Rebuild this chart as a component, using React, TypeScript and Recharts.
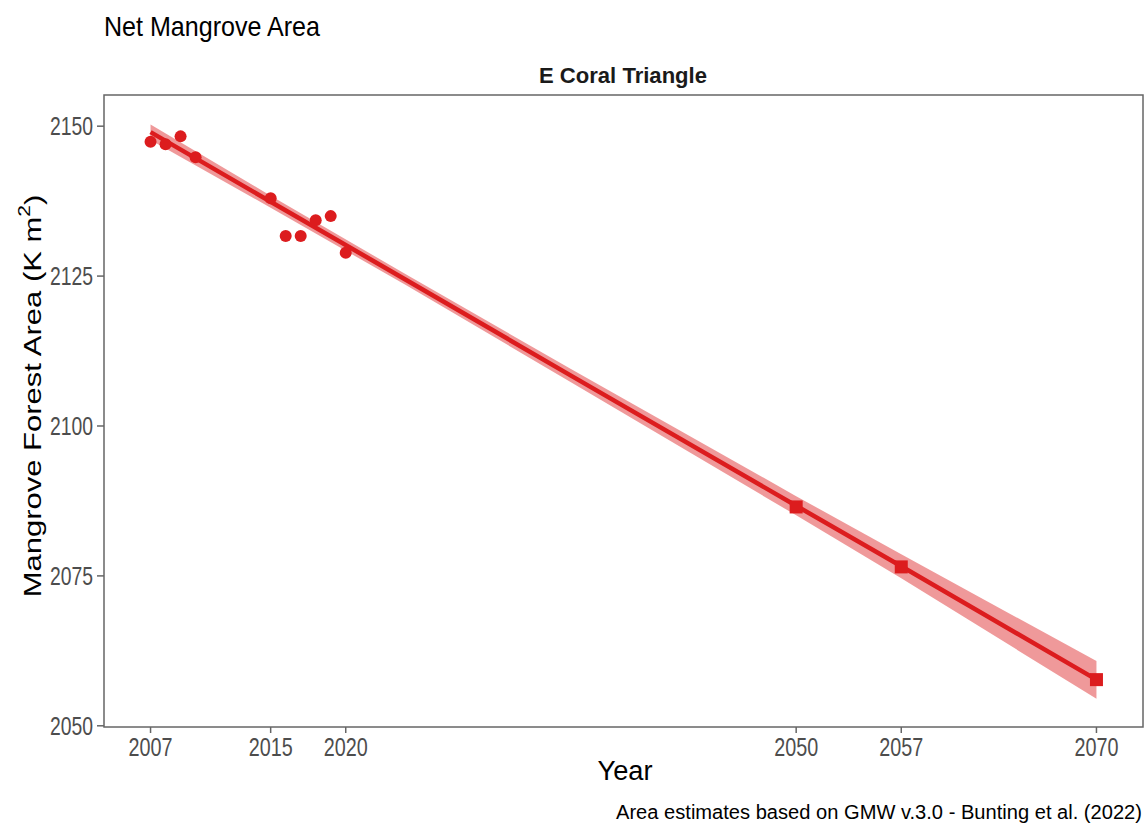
import React from 'react';
import { ComposedChart, Area, Line, Scatter, XAxis, YAxis } from 'recharts';

// observed net mangrove area (km2)
const obsYears = [2007, 2008, 2009, 2010, 2015, 2016, 2017, 2018, 2019, 2020];
const obsArea = [2147.4, 2147.0, 2148.3, 2144.8, 2138.0, 2131.7, 2131.7, 2134.3, 2135.0, 2128.9];

// projected values
const projYears = [2050, 2057, 2070];
const projArea = [2086.5, 2076.5, 2057.7];

// fitted trend and its confidence band
const fitYears = [2007, 2015, 2024, 2035, 2050, 2057, 2070];
const fitArea = [2149.0, 2137.4, 2124.4, 2108.4, 2086.7, 2076.6, 2057.7];
const bandLow = [2147.7, 2136.4, 2123.5, 2107.3, 2085.1, 2074.6, 2054.5];
const bandHigh = [2150.3, 2138.4, 2125.3, 2109.5, 2088.3, 2078.6, 2060.8];

const xTicks = [2007, 2015, 2020, 2050, 2057, 2070];
const yTicks = [2050, 2075, 2100, 2125, 2150];

const fitData = fitYears.map((year, i) => ({ year, fit: fitArea[i], band: [bandLow[i], bandHigh[i]] }));
const obsData = obsYears.map((year, i) => ({ year, area: obsArea[i] }));
const projData = projYears.map((year, i) => ({ year, area: projArea[i] }));

const FONT = '"Liberation Sans", Arial, sans-serif';
const RED = '#DC1C1E';

const XTick = (props: any) => (
  <text x={props.x} y={props.y} dy={18} textAnchor="middle" fontSize={25} fill="#4d4d4d"
    fontFamily={FONT} textLength={44} lengthAdjust="spacingAndGlyphs">
    {props.payload.value}
  </text>
);

const YTick = (props: any) => (
  <text x={props.x} y={props.y} dy={9} textAnchor="end" fontSize={25} fill="#4d4d4d"
    fontFamily={FONT} textLength={43} lengthAdjust="spacingAndGlyphs">
    {props.payload.value}
  </text>
);

const Dot = (props: any) => <circle cx={props.cx} cy={props.cy} r={6} fill={RED} />;
const Sq = (props: any) => <rect x={props.cx - 6.5} y={props.cy - 6.5} width={13} height={13} fill={RED} />;

export default function App() {
  return (
    <div style={{ position: 'absolute', left: 0, top: 0, width: 1146, height: 826, background: '#fff' }}>
      <ComposedChart width={1146} height={826} data={fitData}
        margin={{ top: 95, right: 3, bottom: 59, left: 0 }}>
        <XAxis dataKey="year" type="number" domain={[2003.9, 2073.1]} allowDataOverflow
          ticks={xTicks} height={40} tickSize={6} tickMargin={5}
          axisLine={false} tickLine={{ stroke: '#666', strokeWidth: 1.5 }} tick={<XTick />} />
        <YAxis type="number" domain={[2049.8, 2155.2]} allowDataOverflow ticks={yTicks}
          width={104} tickSize={7} tickMargin={4}
          axisLine={false} tickLine={{ stroke: '#666', strokeWidth: 1.5 }} tick={<YTick />} />
        <Area dataKey="band" type="linear" stroke="none" fill={RED} fillOpacity={0.45}
          isAnimationActive={false} />
        <Line dataKey="fit" type="linear" stroke={RED} strokeWidth={4.5} dot={false}
          isAnimationActive={false} />
        <Scatter data={obsData} dataKey="area" shape={<Dot />} isAnimationActive={false} />
        <Scatter data={projData} dataKey="area" shape={<Sq />} isAnimationActive={false} />
      </ComposedChart>
      <svg width={1146} height={826} style={{ position: 'absolute', left: 0, top: 0, pointerEvents: 'none' }}
        fontFamily={FONT}>
        <rect x={104} y={95} width={1039} height={632} fill="none" stroke="#666" strokeWidth={1.5} />
        <text x={104} y={36} fontSize={28} fill="#000" textLength={216} lengthAdjust="spacingAndGlyphs">
          Net Mangrove Area
        </text>
        <text x={623} y={83} fontSize={22} fontWeight="bold" fill="#1a1a1a" textAnchor="middle"
          textLength={168} lengthAdjust="spacingAndGlyphs">
          E Coral Triangle
        </text>
        <text x={625} y={780} fontSize={27} fill="#000" textAnchor="middle" textLength={55}
          lengthAdjust="spacingAndGlyphs">
          Year
        </text>
        <text x={616} y={819} fontSize={20} fill="#000" textLength={526} lengthAdjust="spacingAndGlyphs">
          Area estimates based on GMW v.3.0 - Bunting et al. (2022)
        </text>
        <g transform="translate(33,396) scale(0.8,1) rotate(-90)">
          <text x={0} y={0} fontSize={31} fill="#000" textAnchor="middle" dominantBaseline="central">
            Mangrove Forest Area (K m<tspan dy={-12} fontSize={21}>2</tspan><tspan dy={12}>)</tspan>
          </text>
        </g>
      </svg>
    </div>
  );
}
